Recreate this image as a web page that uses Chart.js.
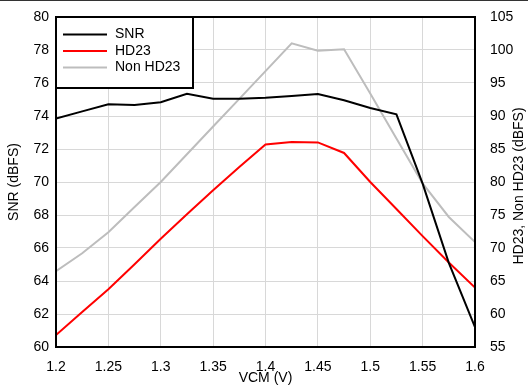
<!DOCTYPE html>
<html>
<head>
<meta charset="utf-8">
<script src="https://cdn.jsdelivr.net/npm/chart.js@4.4.0/dist/chart.umd.min.js"></script>
<style>
  html, body { margin: 0; padding: 0; background: #fff; }
  #wrap { width: 528px; height: 387px; }
</style>
</head>
<body>
<div id="wrap"><canvas id="chart" width="528" height="387"></canvas></div>
<script>
// VCM sweep (V)
const vcm = [1.2, 1.225, 1.25, 1.275, 1.3, 1.325, 1.35, 1.375, 1.4, 1.425, 1.45, 1.475, 1.5, 1.525, 1.55, 1.575, 1.6];
// SNR (dBFS), left axis
const snr = [73.84, 74.28, 74.71, 74.67, 74.83, 75.35, 75.05, 75.05, 75.1, 75.21, 75.33, 74.95, 74.48, 74.1, 69.9, 65.1, 61.2];
// HD23 (dBFS), right axis
const hd23 = [56.8, 60.3, 63.74, 67.53, 71.4, 75.1, 78.75, 82.27, 85.7, 86.05, 86.0, 84.4, 80.0, 75.9, 71.8, 67.8, 64.0];
// Non HD23 (dBFS), right axis
const nonHd23 = [66.5, 69.2, 72.4, 76.2, 80.0, 84.2, 88.4, 92.6, 96.8, 101.0, 99.9, 100.1, 93.4, 86.6, 79.8, 74.7, 70.9];

const FONT = '"Liberation Sans", Arial, sans-serif';

const colors = {
    snr: '#000000',
    hd23: '#ff0000',
    nonHd23: '#bdbdbd',
    grid: '#d8d8d8',
};

const toPoints = (ys) => vcm.map((x, i) => ({ x: x, y: ys[i] }));

// frame, legend box, right title and top rule
const decorations = {
    id: 'decorations',
    afterDraw(chart) {
        const ctx = chart.ctx;
        const a = chart.chartArea;
        ctx.save();

        ctx.fillStyle = '#333';
        ctx.fillRect(0, 0, chart.width, 1);

        ctx.strokeStyle = '#000';
        ctx.lineWidth = 2;
        ctx.strokeRect(a.left, a.top, a.right - a.left, a.bottom - a.top);

        // legend
        const lx = a.left, ly = a.top, lw = 137, lh = 71;
        ctx.fillStyle = '#fff';
        ctx.fillRect(lx, ly, lw, lh);
        ctx.strokeRect(lx, ly, lw, lh);
        ctx.font = '14px ' + FONT;
        ctx.textBaseline = 'middle';
        ctx.textAlign = 'left';
        chart.data.datasets.forEach((ds, i) => {
            const y = ly + 17.5 + i * 16.5;
            ctx.strokeStyle = ds.borderColor;
            ctx.lineWidth = 2;
            ctx.beginPath();
            ctx.moveTo(lx + 7, y);
            ctx.lineTo(lx + 51, y);
            ctx.stroke();
            ctx.fillStyle = '#000';
            ctx.fillText(ds.label, lx + 59, y);
        });

        // right axis title, reading bottom to top
        ctx.translate(519, (a.top + a.bottom) / 2 + 4);
        ctx.rotate(-Math.PI / 2);
        ctx.textAlign = 'center';
        ctx.fillStyle = '#000';
        ctx.fillText('HD23, Non HD23 (dBFS)', 0, 0);
        ctx.restore();
    }
};

const tickFont = { family: FONT, size: 14 };

new Chart(document.getElementById('chart').getContext('2d'), {
    type: 'line',
    data: {
        datasets: [
            { label: 'SNR', data: toPoints(snr), yAxisID: 'y', borderColor: colors.snr },
            { label: 'HD23', data: toPoints(hd23), yAxisID: 'y1', borderColor: colors.hd23 },
            { label: 'Non HD23', data: toPoints(nonHd23), yAxisID: 'y1', borderColor: colors.nonHd23 },
        ]
    },
    options: {
        responsive: false,
        animation: false,
        layout: { padding: { top: 17, left: 0, right: 0, bottom: 0 } },
        elements: {
            line: { borderWidth: 2, tension: 0, fill: false },
            point: { radius: 0 }
        },
        plugins: {
            legend: { display: false },
            tooltip: { enabled: false }
        },
        scales: {
            x: {
                type: 'linear',
                min: 1.2,
                max: 1.6,
                afterFit: (s) => { s.height = 40; },
                border: { display: false },
                grid: { color: colors.grid, drawTicks: false },
                ticks: {
                    stepSize: 0.025,
                    autoSkip: false,
                    maxRotation: 0,
                    padding: 12,
                    color: '#000',
                    font: tickFont,
                    callback: (v, i) => (i % 2 === 0 ? String(+v.toFixed(2)) : null)
                },
                title: {
                    display: true,
                    text: 'VCM (V)',
                    color: '#000',
                    font: tickFont,
                    padding: { top: 0, bottom: 0 }
                }
            },
            y: {
                position: 'left',
                min: 60,
                max: 80,
                afterFit: (s) => { s.width = 56; },
                border: { display: false },
                grid: { color: colors.grid, drawTicks: false },
                ticks: {
                    stepSize: 1,
                    autoSkip: false,
                    padding: 7,
                    color: '#000',
                    font: tickFont,
                    callback: (v) => (Math.round(v) % 2 === 0 ? String(Math.round(v)) : null)
                },
                title: {
                    display: true,
                    text: 'SNR (dBFS)',
                    color: '#000',
                    font: tickFont,
                    padding: { top: 6, bottom: 0 }
                }
            },
            y1: {
                position: 'right',
                min: 55,
                max: 105,
                afterFit: (s) => { s.width = 53; },
                border: { display: false },
                grid: { display: false },
                ticks: {
                    stepSize: 2.5,
                    autoSkip: false,
                    padding: 7,
                    color: '#000',
                    font: tickFont,
                    callback: (v) => (Math.abs(v % 5) < 1e-6 ? String(Math.round(v)) : null)
                }
            }
        }
    },
    plugins: [decorations]
});
</script>
</body>
</html>
